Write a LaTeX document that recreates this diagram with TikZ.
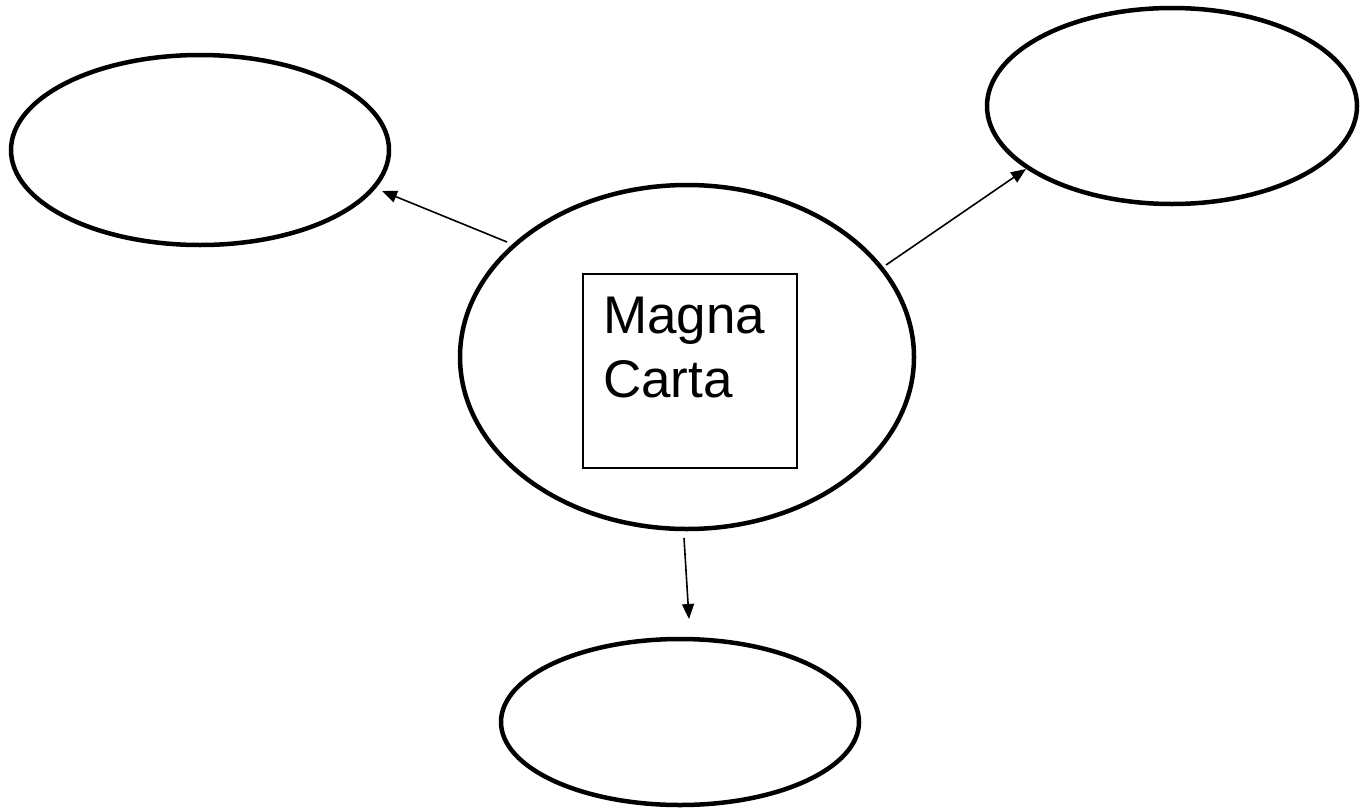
\documentclass[tikz,border=0pt]{standalone}
\usepackage{fontspec}
\setmainfont{Liberation Sans}
\usetikzlibrary{shapes.geometric,arrows.meta}
\begin{document}
\begin{tikzpicture}[x=1pt,y=-1pt,
  bubble/.style={draw=black,ellipse,line width=4.5pt,inner sep=0pt},
  link/.style={draw=black,line width=1.6pt,-{Triangle[length=15pt,width=12pt]}},
  labelbox/.style={draw=black,line width=1.5pt,inner sep=0pt,minimum width=214pt,minimum height=194pt},
  labeltext/.style={inner sep=0pt,align=left,font=\fontsize{53}{64}\selectfont}]
\useasboundingbox[fill=white] (0,0) rectangle (1365,809);
\node[bubble,minimum width=378pt,minimum height=190pt] (tl) at (200,150) {};
\node[bubble,minimum width=370pt,minimum height=196pt] (tr) at (1172,106) {};
\node[bubble,minimum width=454pt,minimum height=344pt] (c) at (687,357) {};
\node[bubble,minimum width=358pt,minimum height=166pt] (b) at (680,722) {};
\node[labelbox,anchor=north west] (box) at (582,273) {};
\node[labeltext,anchor=base west] (mc) at (603,397) {Magna\\Carta};
\coordinate (s1) at (507,242);
\coordinate (e1) at (382,191);
\coordinate (s2) at (886,265);
\coordinate (e2) at (1026,169);
\coordinate (s3) at (684,538);
\coordinate (e3) at (689,619);
\draw[link] (s1) -- (e1);
\draw[link] (s2) -- (e2);
\draw[link] (s3) -- (e3);
\end{tikzpicture}
\end{document}
